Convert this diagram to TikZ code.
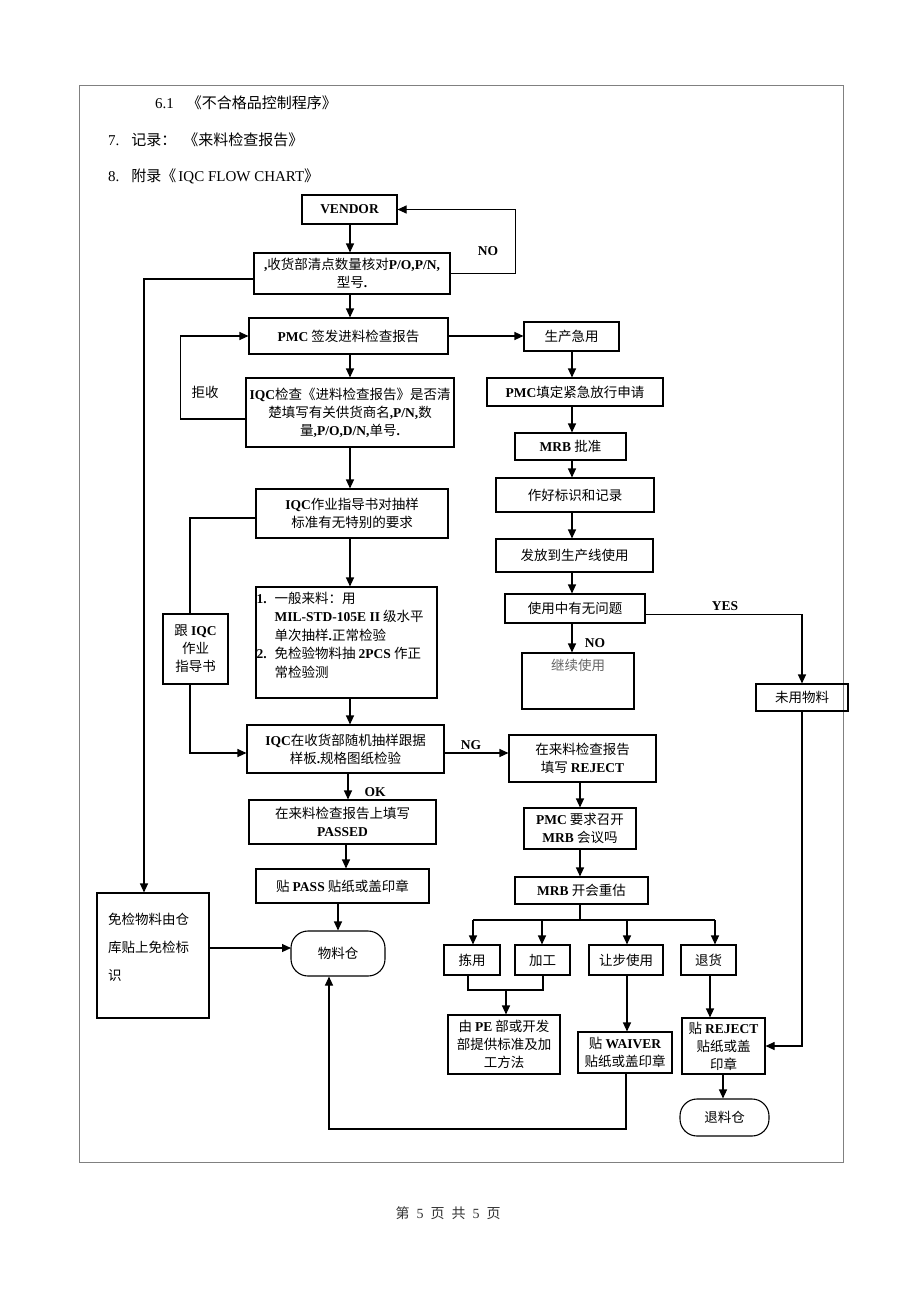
\documentclass[tikz,border=0pt]{standalone}
\usepackage{fontspec}
\setmainfont{Noto Sans CJK SC}
\newfontfamily\enfont{Liberation Serif}
\newcommand\E[1]{{\enfont\bfseries #1}}
\newcommand\R[1]{{\enfont #1}}
\usetikzlibrary{arrows.meta}
\begin{document}
\begin{tikzpicture}[x=1pt,y=-1pt,
  box/.style={draw, line width=1.1pt, inner sep=1pt, align=center, font=\fontsize{13.5}{18}\selectfont},
  term/.style={box, rounded corners=17pt},
  line/.style={line width=1.1pt},
  arr/.style={line, -{Triangle[length=9pt,width=8pt]}},
  lbl/.style={font=\fontsize{13.5}{16}\selectfont\enfont\bfseries, inner sep=0pt},
  hdr/.style={font=\fontsize{15}{18}\selectfont, inner sep=0pt, anchor=base west},
]
\useasboundingbox (0,0) rectangle (920,1302);
\fill[white] (0,0) rectangle (920,1302);
\draw[gray, line width=0.8pt] (79,85) rectangle (843,1162);

% header
\node[hdr] (h1) at (155,108.5) {\R{6.1}\hspace{13pt}《不合格品控制程序》};
\node[hdr] (h2) at (108,145.5) {\R{7.}\hspace{12pt}记录：\hspace{7pt}《来料检查报告》};
\node[hdr] (h3) at (108,181.5) {\R{8.}\hspace{12pt}附录《\hspace{2pt}\R{IQC FLOW CHART}》};
\node[font=\fontsize{14}{16}\selectfont, text=black!80, inner sep=0pt] (foot) at (448,1213) {第\hspace{7pt}\R{5}\hspace{7pt}页\hspace{7pt}共\hspace{7pt}\R{5}\hspace{7pt}页};

% left column
\node[box, minimum width=95pt, minimum height=29pt] (vendor) at (349.5,209.5) {\E{VENDOR}};
\node[box, minimum width=196pt, minimum height=41pt] (recv) at (352,273.5) {\E{,}收货部清点数量核对\E{P/O,P/N,}\\型号\E{.}};
\node[box, minimum width=199pt, minimum height=36pt] (pmc) at (348.5,336) {\E{PMC} 签发进料检查报告};
\node[box, minimum width=208pt, minimum height=69pt, inner sep=0pt] (iqcchk) at (350,412.5) {\E{IQC}检查《进料检查报告》是否清\\楚填写有关供货商名\E{,P/N,}数\\量\E{,P/O,D/N,}单号\E{.}};
\node[box, minimum width=192pt, minimum height=49pt] (guide) at (352,513.5) {\E{IQC}作业指导书对抽样\\标准有无特别的要求};
\node[box, minimum width=181pt, minimum height=111pt] (general) at (346.5,642.5) {};
\node[inner sep=0pt, anchor=base west, font=\fontsize{13.5}{18.5}\selectfont] (generalT) at (256.5,603)
  {\begin{tabular}[t]{@{}p{18pt}@{}l@{}}
   \E{1.} & 一般来料：用\\
          & \E{MIL-STD-105E II} 级水平\\
          & 单次抽样\E{.}正常检验\\
   \E{2.} & 免检验物料抽 \E{2PCS} 作正\\
          & 常检验测
   \end{tabular}};
\node[box, minimum width=65pt, minimum height=70pt] (follow) at (195.5,649) {跟 \E{IQC}\\作业\\指导书};
\node[box, minimum width=197pt, minimum height=48pt] (sample) at (345.5,749) {\E{IQC}在收货部随机抽样跟据\\样板\E{.}规格图纸检验};
\node[box, minimum width=187pt, minimum height=44pt] (passed) at (342.5,822) {在来料检查报告上填写\\\E{PASSED}};
\node[box, minimum width=173pt, minimum height=34pt] (pass) at (342.5,886) {贴 \E{PASS} 贴纸或盖印章};
\node[term, minimum width=94pt, minimum height=45pt] (store) at (338,953.5) {物料仓};
\node[box, minimum width=112pt, minimum height=125pt] (exempt) at (153,955.5) {};
\node[inner sep=0pt, anchor=base west, align=left, font=\fontsize{13.5}{28}\selectfont] (exemptT) at (108,980) {免检物料由仓\\库贴上免检标\\识};

% right column
\node[box, minimum width=95pt, minimum height=29pt] (urgent) at (571.5,336.5) {生产急用};
\node[box, minimum width=176pt, minimum height=28pt] (pmcfill) at (575,392) {\E{PMC}填定紧急放行申请};
\node[box, minimum width=111pt, minimum height=27pt] (mrbok) at (570.5,446.5) {\E{MRB} 批准};
\node[box, minimum width=158pt, minimum height=34pt] (mark) at (575,495) {作好标识和记录};
\node[box, minimum width=157pt, minimum height=33pt] (issue) at (574.5,555.5) {发放到生产线使用};
\node[box, minimum width=140pt, minimum height=29pt] (problem) at (575,608.5) {使用中有无问题};
\node[box, minimum width=112pt, minimum height=56pt] (cont) at (578,681) {};
\node[inner sep=0pt, text=black!60, font=\fontsize{13.5}{18}\selectfont] (contT) at (578,665) {继续使用};
\node[box, minimum width=92pt, minimum height=27pt] (unused) at (802,697.5) {未用物料};
\node[box, minimum width=147pt, minimum height=47pt] (reject) at (582.5,758.5) {在来料检查报告\\填写 \E{REJECT}};
\node[box, minimum width=112pt, minimum height=41pt] (pmcreq) at (580,828.5) {\E{PMC} 要求召开\\\E{MRB} 会议吗};
\node[box, minimum width=133pt, minimum height=27pt] (mrbre) at (581.5,890.5) {\E{MRB} 开会重估};
\node[box, minimum width=56pt, minimum height=30pt] (pick) at (472,960) {拣用};
\node[box, minimum width=55pt, minimum height=30pt] (proc) at (542.5,960) {加工};
\node[box, minimum width=74pt, minimum height=30pt] (concede) at (626,960) {让步使用};
\node[box, minimum width=55pt, minimum height=30pt] (ret) at (708.5,960) {退货};
\node[box, minimum width=112pt, minimum height=59pt] (pe) at (504,1044.5) {由 \E{PE} 部或开发\\部提供标准及加\\工方法};
\node[box, minimum width=94pt, minimum height=41pt] (waiver) at (625,1052.5) {贴 \E{WAIVER}\\贴纸或盖印章};
\node[box, minimum width=83pt, minimum height=56pt] (rejlabel) at (723.5,1046) {贴 \E{REJECT}\\贴纸或盖\\印章};
\node[term, minimum width=89pt, minimum height=37pt] (retstore) at (724.5,1117.5) {退料仓};

% labels
\node[lbl] (lno1) at (488,251) {NO};
\node[font=\fontsize{13.5}{16}\selectfont, inner sep=0pt] (ljs) at (205,392) {拒收};
\node[lbl] (lyes) at (725,606) {YES};
\node[lbl] (lno2) at (595,643) {NO};
\node[lbl] (lng) at (471,745) {NG};
\node[lbl] (lok) at (375,792) {OK};

% coordinates
\coordinate (cL) at (350,0);
\coordinate (cR) at (572,0);
\coordinate (cF) at (190,0);
\coordinate (cM) at (580,0);
\coordinate (br) at (580,920);
\coordinate (mj) at (506,990);

% connectors left
\draw[arr] (cL |- vendor.south) -- (cL |- recv.north);
\draw[arr] (recv.east) -- ++(65,0) |- (vendor.east);
\draw[arr] ([yshift=-5.5pt]recv.west) -| ([xshift=-9pt]exempt.north);
\draw[arr] (cL |- recv.south) -- (cL |- pmc.north);
\draw[arr] (cL |- pmc.south) -- (cL |- iqcchk.north);
\draw[arr] ([yshift=-6.5pt]iqcchk.west) -- ++(-65,0) |- (pmc.west);
\draw[arr] (pmc.east) -- (pmc.east -| urgent.west);
\draw[arr] (cL |- iqcchk.south) -- (cL |- guide.north);
\draw[arr] (cL |- guide.south) -- (cL |- general.north);
\draw[line] ([yshift=-4.5pt]guide.west) -| (cF |- follow.north);
\draw[arr] (cF |- follow.south) |- ([yshift=-4pt]sample.west);
\draw[arr] (cL |- general.south) -- (cL |- sample.north);
\draw[arr] (348,0 |- sample.south) -- (348,0 |- passed.north);
\draw[arr] ([yshift=-4pt]sample.east) -- ([yshift=-4pt]sample.east -| reject.west);
\draw[arr] (346,0 |- passed.south) -- (346,0 |- pass.north);
\draw[arr] (pass.south -| store.north) -- (store.north);
\draw[arr] (exempt.east |- 0,948) -- (291,948);

% connectors right
\draw[arr] (cR |- urgent.south) -- (cR |- pmcfill.north);
\draw[arr] (cR |- pmcfill.south) -- (cR |- mrbok.north);
\draw[arr] (cR |- mrbok.south) -- (cR |- mark.north);
\draw[arr] (cR |- mark.south) -- (cR |- issue.north);
\draw[arr] (cR |- issue.south) -- (cR |- problem.north);
\draw[arr] (cR |- problem.south) -- (cR |- cont.north);
\draw[arr] ([yshift=-6pt]problem.east) -| (unused.north);
\draw[arr] (unused.south) |- (rejlabel.east);
\draw[arr] (cM |- reject.south) -- (cM |- pmcreq.north);
\draw[arr] (cM |- pmcreq.south) -- (cM |- mrbre.north);
\draw[line] (cM |- mrbre.south) -- (br);
\draw[line] (473,920) -- (715,920);
\draw[arr] (473,920) -- (473,0 |- pick.north);
\draw[arr] (542,920) -- (542,0 |- proc.north);
\draw[arr] (627,920) -- (627,0 |- concede.north);
\draw[arr] (715,920) -- (715,0 |- ret.north);
\draw[line] (468,0 |- pick.south) -- (468,990) -- (543,990) -- (543,0 |- proc.south);
\draw[arr] (mj) -- (mj |- pe.north);
\draw[arr] (627,0 |- concede.south) -- (627,0 |- waiver.north);
\draw[arr] (626,0 |- waiver.south) -- (626,1129) -| (329,0 |- store.south);
\draw[arr] (710,0 |- ret.south) -- (710,0 |- rejlabel.north);
\draw[arr] (723,0 |- rejlabel.south) -- (723,0 |- retstore.north);
\end{tikzpicture}
\end{document}
